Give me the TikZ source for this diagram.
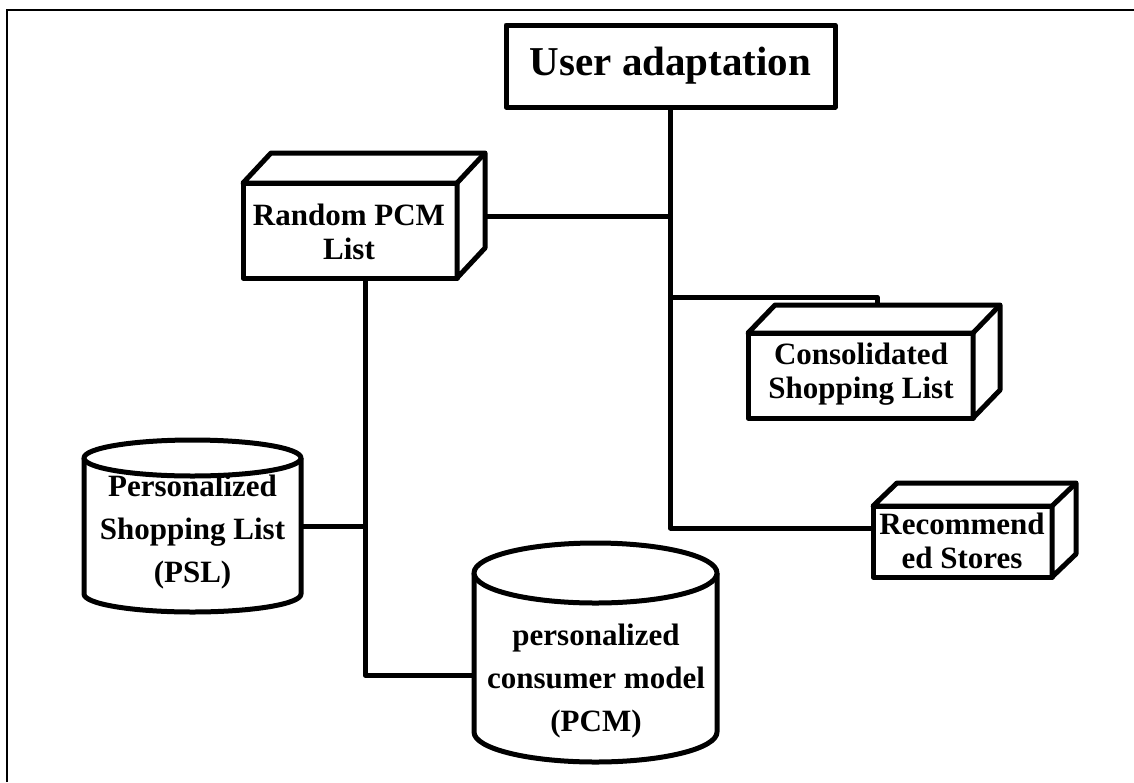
\documentclass[tikz,border=0pt]{standalone}
\usepackage{fontspec}
\setmainfont{Liberation Serif}

% top and right faces of a box whose front face is node #1, depth (#2,#3)
\newcommand\depthfaces[3]{%
  \draw[fill=white] (#1.north west) -- ++(#2,-#3)
    -- ([shift={(#2,-#3)}]#1.north east)
    -- ([shift={(#2,-#3)}]#1.south east)
    -- (#1.south east) -- (#1.north east) -- cycle;
  \draw (#1.north east) -- ++(#2,-#3);
}

\begin{document}
\begin{tikzpicture}[x=1pt,y=-1pt,line width=5pt,line join=round,
  face/.style={draw,fill=white,inner sep=0pt,outer sep=0pt},
  boxlabel/.style={font=\fontsize{31}{34}\selectfont\bfseries,align=center},
  cyllabel/.style={font=\fontsize{31}{43}\selectfont\bfseries,align=center},
  body/.style={inner sep=0pt,outer sep=0pt},
  wire/.style={line width=5pt}]
\useasboundingbox (0,0) rectangle (1134,782);

% frame
\draw[line width=2.5pt,line join=miter] (7,782) -- (7,10) -- (1134,10);

% top box
\node[face,minimum width=329pt,minimum height=82pt,
      font=\fontsize{41}{45}\selectfont\bfseries] (ua) at (670.5,66) {User adaptation};

% 3D boxes
\node[face,minimum width=214pt,minimum height=95pt] (rnd) at (350,230.5) {};
\depthfaces{rnd}{28}{30}
\node[boxlabel] (rndtext) at (349,232) {Random PCM\\List};

\node[face,minimum width=225pt,minimum height=85pt] (con) at (860.5,375.5) {};
\depthfaces{con}{27}{28}
\node[boxlabel] (context) at (861,374) {Consolidated\\Shopping List};

\node[face,minimum width=179pt,minimum height=71pt] (rec) at (962.5,541.5) {};
\depthfaces{rec}{24}{23}
\node[boxlabel] (rectext) at (962,541) {Recommend\\ed Stores};

% cylinders
\node[body,minimum width=217pt,minimum height=136pt] (psl) at (192.5,526) {};
\node[cyllabel] (psltext) at (192.5,532) {Personalized\\Shopping List\\(PSL)};
\draw (psl.north west) -- (psl.south west)
  arc[start angle=180,end angle=360,x radius=108.5pt,y radius=18pt] -- (psl.north east);
\draw[fill=white] (psl.north) ellipse[x radius=108.5pt,y radius=18pt];

\node[body,minimum width=243pt,minimum height=159pt] (pcm) at (595.5,652.5) {};
\node[cyllabel] (pcmtext) at (596,681) {personalized\\consumer model\\(PCM)};
\draw (pcm.north west) -- (pcm.south west)
  arc[start angle=180,end angle=360,x radius=121.5pt,y radius=30pt] -- (pcm.north east);
\draw[fill=white] (pcm.north) ellipse[x radius=121.5pt,y radius=30pt];

% junctions
\coordinate (ja) at (670.5,216);
\coordinate (jc) at (670.5,297);
\coordinate (jr) at (670.5,528);
\coordinate (contop) at (877,305);
\coordinate (rndback) at (485,216);
\coordinate (jb) at (365,675);

% connectors
\draw[wire] (ua.south) -- (jr) -- (jr -| rec.west);
\draw[wire] (jc) -| (contop);
\draw[wire] (rndback) -- (ja);
\draw[wire] (rnd.south -| jb) -- (jb) -- (jb -| pcm.west);
\draw[wire] (psl.east) -- (psl.east -| jb);
\end{tikzpicture}
\end{document}
